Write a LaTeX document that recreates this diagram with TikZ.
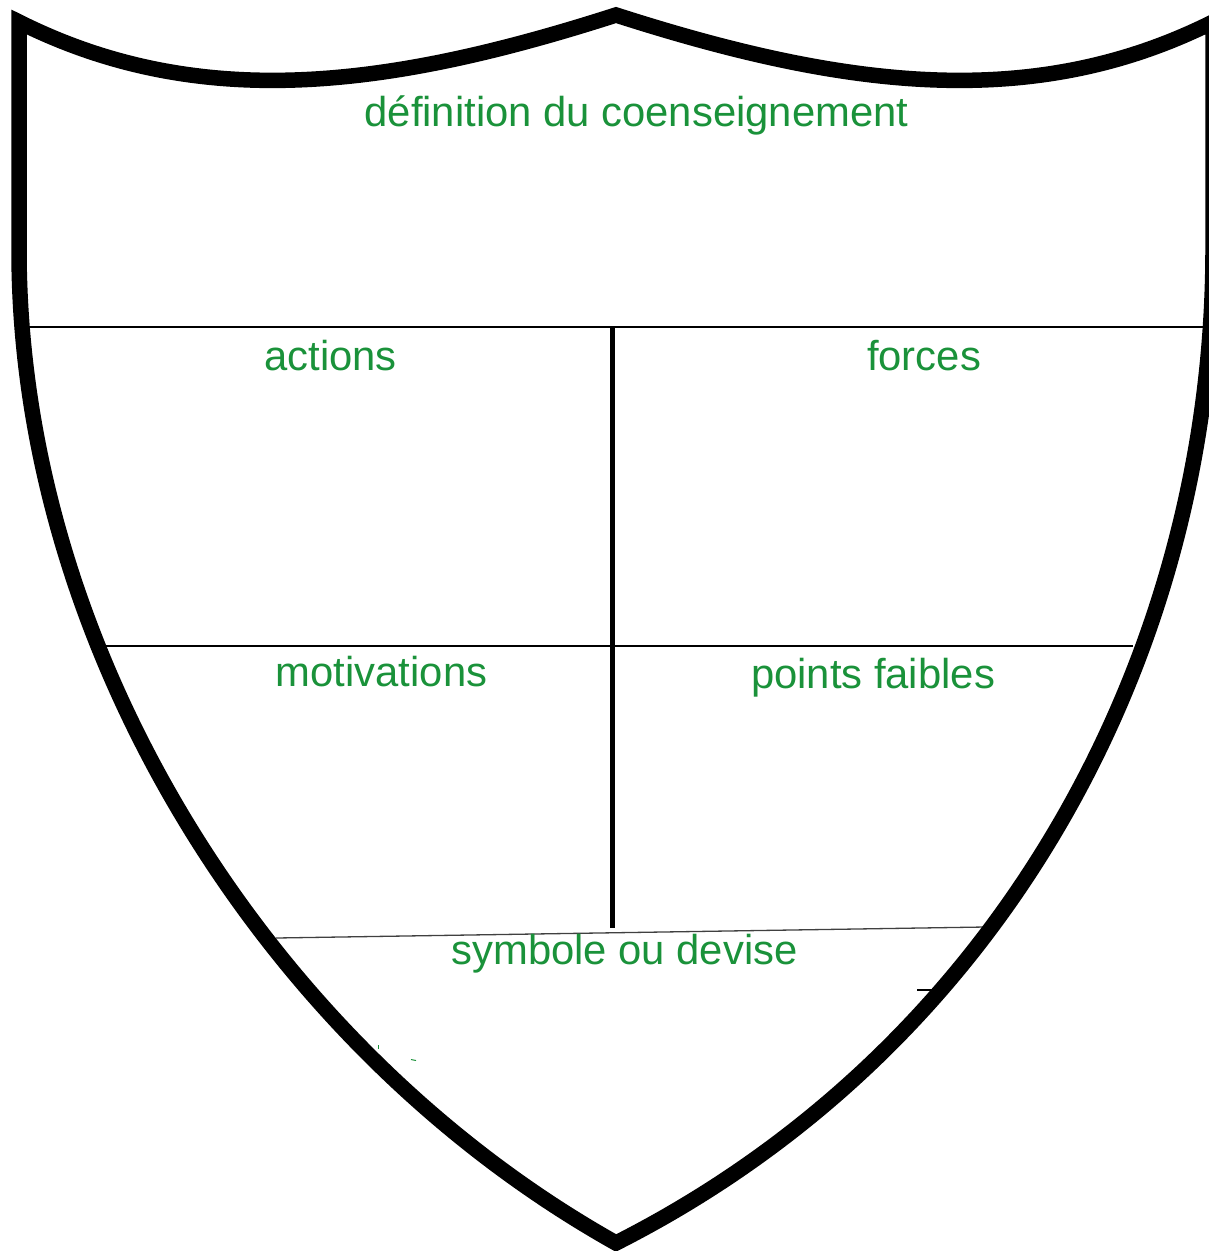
\documentclass[tikz,border=0pt]{standalone}
\usepackage{fontspec}
\setmainfont{Liberation Sans}
\definecolor{labelgreen}{RGB}{26,146,58}
\begin{document}
\begin{tikzpicture}[x=1pt,y=-1pt,
  outline/.style={line width=15.5pt,line join=miter,black},
  divider/.style={line width=2.8pt,black},
  middiv/.style={line width=4.8pt,black},
  thindiv/.style={line width=1.3pt,black!75},
  lbl/.style={anchor=base,text=labelgreen,inner sep=0pt,font=\fontsize{41.8}{50}\selectfont}]
\useasboundingbox (0,0) rectangle (1209,1251);
\fill[white] (0,0) rectangle (1209,1251);
% dividers (drawn first so the outline covers their ends)
\coordinate (h1l) at (27,327);
\coordinate (h1r) at (1206,327);
\coordinate (vt) at (612.5,327);
\coordinate (vb) at (612.5,928);
\coordinate (h2l) at (104,646);
\coordinate (h2r) at (1133,646);
\coordinate (h3l) at (276,938);
\coordinate (h3r) at (985,927);
\draw[divider] (h1l) -- (h1r);
\draw[middiv] (vt) -- (vb);
\draw[divider] (h2l) -- (h2r);
\draw[thindiv] (h3l) -- (h3r);
% shield outline
\coordinate (tl) at (19,22);
\coordinate (pk) at (616,15);
\coordinate (tr) at (1213,22);
\coordinate (bt) at (616,1243);
\draw[outline] (bt) .. controls (268,1048) and (19,650) .. (19,250) -- (tl)
  .. controls (199,112) and (387,88.6) .. (pk)
  .. controls (845,88.6) and (1033,112) .. (tr)
  -- (1213,250) .. controls (1213,650) and (1005,1046) .. (bt) -- cycle;
% small marks
\coordinate (m1a) at (917,990);
\coordinate (m1b) at (934,990);
\draw[line width=2.2pt] (m1a) -- (m1b);
\coordinate (m2a) at (378.5,1045);
\coordinate (m2b) at (378.5,1049);
\draw[labelgreen,line width=1pt] (m2a) -- (m2b);
\coordinate (m3a) at (411,1059.5);
\coordinate (m3b) at (416,1060.5);
\draw[labelgreen,line width=1pt] (m3a) -- (m3b);
% labels
\node[lbl] (def) at (636.5,126) {définition du coenseignement};
\node[lbl] (act) at (330.5,370) {actions};
\node[lbl] (forc) at (924,370) {forces};
\node[lbl] (mot) at (381.5,686) {motivations};
\node[lbl] (pf) at (873,688) {points faibles};
\node[lbl] (sym) at (624.5,964) {symbole ou devise};
\end{tikzpicture}
\end{document}
